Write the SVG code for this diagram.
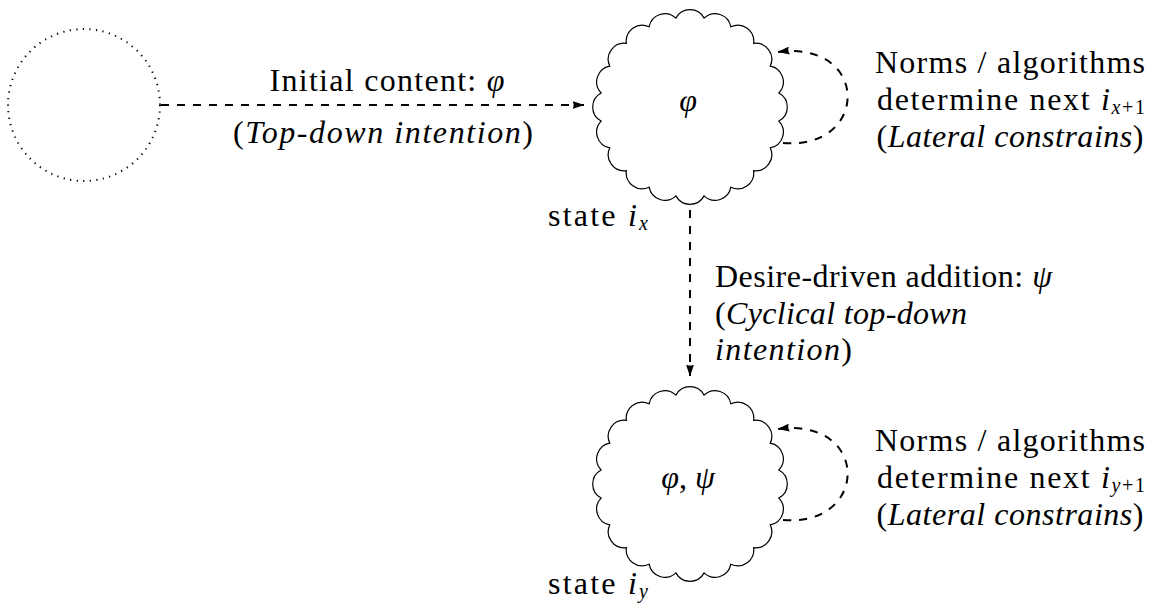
<svg xmlns="http://www.w3.org/2000/svg" xmlns:xlink="http://www.w3.org/1999/xlink" width="1153" height="606" viewBox="0 0 1153 606">
  <style>
    text { font-family: "Liberation Serif", "Times New Roman", serif; font-size: 32px; fill: #000; }
    .it { font-style: italic; }
    .up { font-style: normal; }
    .sub { font-size: 20px; }
    .mid { text-anchor: middle; }
    .cloud { fill: #fff; stroke: #000; stroke-width: 1.2; }
    .dotted { fill: none; stroke: #000; stroke-width: 2; stroke-dasharray: 1.2 5.4; }
    .edge { fill: none; stroke: #000; stroke-width: 2; stroke-dasharray: 8 8; }
  </style>
  <defs>
    <!-- 20-puff cloud outline, centred on the origin -->
    <path id="cloud" class="cloud" d="M88.89,-14.08 A16,16 0 0 1 88.89,14.08 A16,16 0 0 1 80.19,40.86 A16,16 0 0 1 63.64,63.64 A16,16 0 0 1 40.86,80.19 A16,16 0 0 1 14.08,88.89 A16,16 0 0 1 -14.08,88.89 A16,16 0 0 1 -40.86,80.19 A16,16 0 0 1 -63.64,63.64 A16,16 0 0 1 -80.19,40.86 A16,16 0 0 1 -88.89,14.08 A16,16 0 0 1 -88.89,-14.08 A16,16 0 0 1 -80.19,-40.86 A16,16 0 0 1 -63.64,-63.64 A16,16 0 0 1 -40.86,-80.19 A16,16 0 0 1 -14.08,-88.89 A16,16 0 0 1 14.08,-88.89 A16,16 0 0 1 40.86,-80.19 A16,16 0 0 1 63.64,-63.64 A16,16 0 0 1 80.19,-40.86 A16,16 0 0 1 88.89,-14.08 Z"/>
    <marker id="head" viewBox="0 0 12 8" refX="11.5" refY="4" markerWidth="12" markerHeight="8" markerUnits="userSpaceOnUse" orient="auto">
      <path d="M0,0 L12,4 L0,8 Q2.2,4 0,0 Z" fill="#000"/>
    </marker>
  </defs>

  <!-- empty source state -->
  <g id="source">
    <circle class="dotted" cx="84" cy="105" r="76"/>
  </g>

  <!-- state i_x -->
  <g id="state-x">
    <use xlink:href="#cloud" href="#cloud" transform="translate(690,107)"/>
    <text class="it mid" x="688" y="111">φ</text>
    <text x="548" y="226" textLength="100" lengthAdjust="spacing">state <tspan class="it">i</tspan><tspan class="it sub" dy="4">x</tspan></text>
  </g>

  <!-- state i_y -->
  <g id="state-y">
    <use xlink:href="#cloud" href="#cloud" transform="translate(690,484)"/>
    <text class="it mid" x="688" y="488">φ<tspan class="up">, </tspan>ψ</text>
    <text x="548" y="594" textLength="100" lengthAdjust="spacing">state <tspan class="it">i</tspan><tspan class="it sub" dy="4">y</tspan></text>
  </g>

  <!-- transitions -->
  <g id="connectors">
    <path class="edge" d="M161,105 H584" marker-end="url(#head)"/>
    <path class="edge" d="M690,210 V376" marker-end="url(#head)"/>
    <path class="edge" d="M783,143 C870,150 870,40 778,52" marker-end="url(#head)"/>
    <path class="edge" d="M783,520 C870,527 870,417 778,429" marker-end="url(#head)"/>
  </g>

  <!-- transition labels -->
  <g id="labels">
    <text class="mid" x="387" y="91" textLength="235" lengthAdjust="spacing">Initial content: <tspan class="it">φ</tspan></text>
    <text class="mid" x="383" y="143" textLength="300" lengthAdjust="spacing">(<tspan class="it">Top-down intention</tspan>)</text>

    <text x="715" y="287" textLength="337" lengthAdjust="spacing">Desire-driven addition: <tspan class="it">ψ</tspan></text>
    <text x="715" y="324" textLength="252" lengthAdjust="spacing">(<tspan class="it">Cyclical top-down</tspan></text>
    <text x="715" y="360" textLength="137" lengthAdjust="spacing"><tspan class="it">intention</tspan>)</text>

    <text class="mid" x="1010" y="73" textLength="270" lengthAdjust="spacing">Norms / algorithms</text>
    <text class="mid" x="1011" y="110" textLength="268" lengthAdjust="spacing">determine next <tspan class="it">i</tspan><tspan class="sub" dy="4"><tspan class="it">x</tspan>+1</tspan></text>
    <text class="mid" x="1010" y="147" textLength="267" lengthAdjust="spacing">(<tspan class="it">Lateral constrains</tspan>)</text>

    <text class="mid" x="1010" y="451" textLength="270" lengthAdjust="spacing">Norms / algorithms</text>
    <text class="mid" x="1011" y="488" textLength="268" lengthAdjust="spacing">determine next <tspan class="it">i</tspan><tspan class="sub" dy="4"><tspan class="it">y</tspan>+1</tspan></text>
    <text class="mid" x="1010" y="525" textLength="267" lengthAdjust="spacing">(<tspan class="it">Lateral constrains</tspan>)</text>
  </g>
</svg>
